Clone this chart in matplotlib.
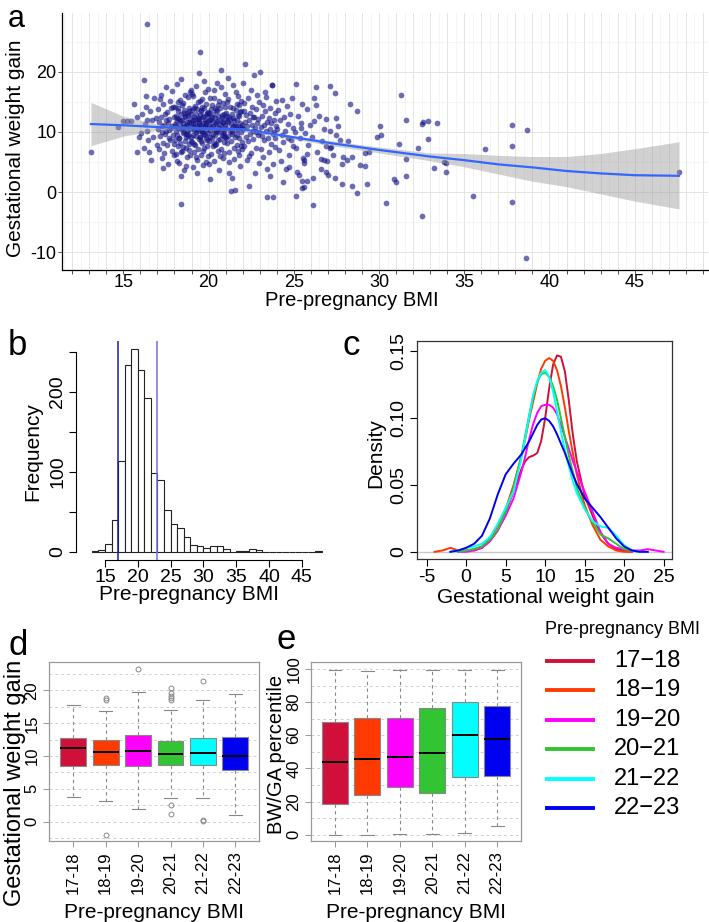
import numpy as np
import matplotlib
matplotlib.use('Agg')
import matplotlib.pyplot as plt
from matplotlib.lines import Line2D
from matplotlib.ticker import MultipleLocator, FuncFormatter

plt.rcParams['font.family'] = ['Liberation Sans', 'DejaVu Sans']
plt.rcParams['axes.unicode_minus'] = False

W, H = 709, 922

# ---------------- data ----------------
# panel a: scatter of pre-pregnancy BMI vs gestational weight gain
pts_16_18 = [(16.05, 9.8), (16.1, 12.9), (16.2, 7.4), (16.25, 11.3), (16.35, 14.1), (16.4, 10.2), (16.45, 8.6),
             (16.55, 13.4), (16.6, 5.3), (16.7, 11.9), (16.75, 9.1), (16.8, 15.6), (16.9, 12.3), (16.95, 7.9),
             (17.02, 10.4), (17.05, 13.8), (17.08, 7.1), (17.12, 11.6), (17.15, 9.3), (17.18, 16.2), (17.21, 12.5),
             (17.24, 5.6), (17.27, 10.9), (17.3, 8.2), (17.33, 14.6), (17.36, 11.2), (17.39, 6.5), (17.42, 12.9),
             (17.45, 9.7), (17.48, 17.4), (17.51, 10.1), (17.54, 7.8), (17.57, 13.3), (17.6, 11.5), (17.63, 4.7),
             (17.66, 9.0), (17.69, 12.1), (17.72, 15.1), (17.75, 8.6), (17.78, 10.7), (17.81, 13.9), (17.84, 6.9),
             (17.87, 11.0), (17.9, 9.5), (17.93, 14.2), (17.96, 12.4), (17.99, 8.0), (17.14, 15.4), (17.35, 4.0),
             (17.52, 12.0), (17.68, 10.3), (17.86, 16.8), (17.25, 9.9), (17.95, 6.2)]
pts_18_19 = [(18.01, 11.3), (18.03, 8.7), (18.05, 14.2), (18.07, 10.1), (18.09, 6.4), (18.11, 12.6), (18.13, 9.4),
             (18.15, 17.9), (18.17, 11.8), (18.19, 7.7), (18.21, 13.5), (18.23, 10.6), (18.25, 4.9), (18.27, 12.2),
             (18.29, 9.0), (18.31, 15.3), (18.33, 11.1), (18.35, 8.2), (18.37, 13.0), (18.39, 10.4), (18.41, 18.8),
             (18.43, 6.9), (18.45, 12.0), (18.47, 9.8), (18.49, 14.8), (18.51, 11.5), (18.53, 3.6), (18.55, 10.8),
             (18.57, 13.7), (18.59, 8.5), (18.61, 12.4), (18.63, 16.1), (18.65, 9.2), (18.67, 11.0), (18.69, 7.3),
             (18.71, 13.2), (18.73, 10.2), (18.75, 5.8), (18.77, 12.8), (18.79, 9.6), (18.81, 15.8), (18.83, 11.7),
             (18.85, 8.0), (18.87, 14.0), (18.89, 10.5), (18.91, 6.1), (18.93, 12.1), (18.95, 9.1), (18.97, 17.0),
             (18.99, 11.4), (18.04, 10.9), (18.12, 5.2), (18.18, 13.9), (18.26, 8.9), (18.34, 11.9), (18.42, 14.5),
             (18.48, 7.5), (18.56, 10.0), (18.62, 12.7), (18.68, 4.4), (18.74, 11.2), (18.8, 9.3), (18.86, 13.4),
             (18.92, 16.7), (18.98, 8.4), (18.14, 12.3), (18.22, 15.0), (18.36, 6.6), (18.46, 10.7), (18.54, 13.1),
             (18.66, 9.7), (18.72, 11.6), (18.84, 7.0), (18.94, 12.9), (18.38, 2.6)]
pts_19_20 = [(19.01, 10.8), (19.03, 13.6), (19.05, 8.3), (19.07, 11.9), (19.09, 15.9), (19.11, 9.5), (19.13, 12.5),
             (19.15, 6.7), (19.17, 10.3), (19.19, 14.3), (19.21, 11.4), (19.23, 7.9), (19.25, 13.0), (19.27, 9.9),
             (19.29, 17.6), (19.31, 11.0), (19.33, 5.4), (19.35, 12.2), (19.37, 10.1), (19.39, 14.9), (19.41, 8.8),
             (19.43, 11.7), (19.45, 19.8), (19.47, 9.2), (19.49, 12.8), (19.51, 10.6), (19.53, 6.2), (19.55, 13.5),
             (19.57, 11.2), (19.59, 8.1), (19.61, 15.5), (19.63, 10.0), (19.65, 12.4), (19.67, 4.5), (19.69, 11.5),
             (19.71, 9.6), (19.73, 13.9), (19.75, 7.4), (19.77, 10.9), (19.79, 16.6), (19.81, 12.0), (19.83, 9.0),
             (19.85, 11.3), (19.87, 14.6), (19.89, 8.6), (19.91, 10.4), (19.93, 12.9), (19.95, 6.0), (19.97, 11.8),
             (19.99, 9.8), (19.02, 16.3), (19.06, 4.1), (19.12, 10.7), (19.18, 12.1), (19.24, 9.3), (19.3, 13.8),
             (19.36, 7.1), (19.42, 11.1), (19.48, 15.2), (19.54, 8.5), (19.6, 10.2), (19.66, 12.6), (19.72, 18.4),
             (19.78, 9.4), (19.84, 11.6), (19.9, 7.7), (19.96, 13.3), (19.08, 11.5), (19.16, 14.0), (19.26, 5.9),
             (19.34, 10.5), (19.44, 12.3), (19.52, 9.1), (19.62, 14.1), (19.7, 6.8), (19.8, 10.8), (19.88, 13.1),
             (19.94, 17.2), (19.14, 8.0), (19.32, 3.2), (19.46, 11.9), (19.58, 13.7), (19.68, 10.0), (19.86, 5.0),
             (19.98, 12.7)]
pts_20_21 = [(20.01, 11.0), (20.03, 8.4), (20.05, 13.2), (20.07, 10.3), (20.09, 15.7), (20.11, 9.1), (20.13, 12.1),
             (20.15, 6.3), (20.17, 10.8), (20.19, 14.4), (20.21, 11.6), (20.23, 7.6), (20.25, 12.9), (20.27, 9.7),
             (20.29, 16.9), (20.31, 10.5), (20.33, 5.1), (20.35, 12.3), (20.37, 9.4), (20.39, 14.0), (20.41, 11.3),
             (20.43, 8.0), (20.45, 13.6), (20.47, 10.1), (20.49, 18.1), (20.51, 11.8), (20.53, 6.9), (20.55, 12.6),
             (20.57, 9.9), (20.59, 15.1), (20.61, 10.7), (20.63, 3.7), (20.65, 12.0), (20.67, 8.8), (20.69, 13.9),
             (20.71, 11.1), (20.73, 7.2), (20.75, 20.3), (20.77, 9.5), (20.79, 12.5), (20.81, 10.4), (20.83, 5.7),
             (20.85, 14.8), (20.87, 11.4), (20.89, 8.3), (20.91, 13.0), (20.93, 10.0), (20.95, 16.3), (20.97, 9.2),
             (20.99, 12.2), (20.04, 4.6), (20.1, 11.9), (20.16, 13.8), (20.22, 9.0), (20.28, 10.9), (20.34, 15.6),
             (20.4, 7.9), (20.46, 11.5), (20.52, 13.4), (20.58, 8.6), (20.64, 10.6), (20.7, 17.5), (20.76, 12.8),
             (20.82, 9.8), (20.88, 6.5), (20.94, 11.2), (20.98, 14.2), (20.06, 2.1), (20.2, 12.4), (20.3, 8.2),
             (20.44, 10.2), (20.56, 14.5), (20.66, 6.0), (20.8, 11.7), (20.92, 9.3)]
pts_21_22 = [(21.01, 10.7), (21.04, 13.1), (21.07, 8.1), (21.1, 11.8), (21.13, 15.4), (21.16, 9.3), (21.19, 12.4),
             (21.22, 6.6), (21.25, 10.2), (21.28, 14.1), (21.31, 11.3), (21.34, 0.1), (21.37, 12.9), (21.4, 9.6),
             (21.43, 17.8), (21.46, 10.9), (21.49, 5.5), (21.52, 12.0), (21.55, 0.3), (21.58, 13.7), (21.61, 11.0),
             (21.64, 7.8), (21.67, 14.7), (21.7, 10.4), (21.73, 16.0), (21.76, 8.9), (21.79, 12.6), (21.82, 4.3),
             (21.85, 11.5), (21.88, 9.9), (21.91, 13.5), (21.94, 7.1), (21.97, 10.6), (21.99, 18.2), (21.03, 9.0),
             (21.09, 14.9), (21.15, 11.6), (21.21, 3.2), (21.27, 12.2), (21.33, 8.5), (21.39, 10.0), (21.45, 13.9),
             (21.51, 7.4), (21.57, 11.2), (21.63, 16.7), (21.69, 9.4), (21.75, 12.8), (21.81, 6.1), (21.87, 10.8),
             (21.93, 15.2), (21.98, 8.3), (21.06, 12.7), (21.18, 5.0), (21.3, 10.5), (21.42, 12.3), (21.54, 9.2),
             (21.66, 11.9), (21.78, 14.4), (21.9, 7.6), (21.96, 11.1), (21.12, 19.0), (21.36, 2.4), (21.6, 10.3),
             (21.72, 6.8), (21.84, 13.3)]
pts_22_24 = [(22.02, 10.4), (22.05, 13.5), (22.08, 7.7), (22.11, 11.6), (22.14, 21.3), (22.17, 9.1), (22.2, 12.8),
             (22.23, 5.4), (22.26, 10.9), (22.29, 15.6), (22.32, 8.4), (22.35, 11.9), (22.38, 1.0), (22.41, 13.1),
             (22.44, 9.7), (22.47, 17.0), (22.5, 6.5), (22.53, 11.2), (22.56, 14.2), (22.59, 8.8), (22.62, 10.1),
             (22.65, 19.4), (22.68, 12.4), (22.71, 3.1), (22.74, 10.6), (22.77, 13.8), (22.8, 7.3), (22.83, 11.4),
             (22.86, 16.2), (22.89, 9.4), (22.92, 12.1), (22.95, 4.8), (22.98, 10.0), (22.1, 14.8), (22.37, 6.0),
             (22.58, 12.5), (22.79, 9.9), (22.96, 15.0),
             (23.02, 19.9), (23.05, 10.8), (23.08, 7.2), (23.12, 12.7), (23.15, 9.3), (23.18, 14.5), (23.22, 5.8),
             (23.25, 11.1), (23.28, 8.6), (23.32, 13.4), (23.35, 10.2), (23.38, 15.8), (23.42, 3.9), (23.45, 11.7),
             (23.48, 9.0), (23.52, 12.3), (23.55, 6.6), (23.58, 10.5), (23.62, 14.0), (23.65, 8.0), (23.68, 11.4),
             (23.72, 17.8), (23.75, 9.6), (23.78, 4.6), (23.82, 12.0), (23.85, 10.0), (23.88, 13.1), (23.92, 7.5),
             (23.95, 11.0), (23.98, 15.1), (23.4, -0.8), (23.6, 2.6), (23.3, 16.6), (23.9, 8.9)]
pts_24_28 = [(24.03, 10.4), (24.08, 13.6), (24.13, 7.0), (24.18, 11.9), (24.23, 5.1), (24.28, 9.5), (24.33, 15.3),
             (24.38, 8.3), (24.43, 12.4), (24.48, 10.1), (24.53, 3.8), (24.58, 14.3), (24.63, 9.0), (24.68, 11.3),
             (24.73, 6.2), (24.78, 12.9), (24.83, 8.7), (24.88, 15.6), (24.93, 10.6), (24.98, 7.7), (24.35, 1.6),
             (24.7, 4.2), (25.05, 10.0), (25.15, 7.3), (25.25, 12.6), (25.35, 8.9), (25.45, 11.4), (25.55, 5.6),
             (25.65, 9.8), (25.75, 13.8), (25.85, 7.9), (25.95, 11.1), (25.2, 3.3), (25.5, 14.6), (25.8, 6.4),
             (25.4, 10.7), (26.05, 9.2), (26.2, 11.8), (26.35, 6.7), (26.5, 12.7), (26.65, 8.4), (26.8, 10.5),
             (26.95, 5.2), (26.3, 14.5), (26.6, 3.9), (26.9, 12.1), (27.1, 10.2), (27.3, 6.1), (27.5, 12.3),
             (27.7, 8.6), (27.85, 4.7), (27.6, 11.0)]
pts_outer = [(13.1, 6.6), (14.7, 10.8), (15.0, 11.8), (15.2, 11.8), (15.45, 11.8), (15.6, 14.7), (15.8, 12.5),
             (15.8, 6.7), (16.2, 18.6), (16.3, 16.0), (16.4, 27.9), (15.9, 9.2), (16.5, 6.6), (16.4, 12.0),
             (19.5, 23.2), (18.4, -2.0), (38.6, -11.0), (35.5, -0.6), (37.8, -1.6), (32.5, -3.9), (30.4, -1.9),
             (26.1, -2.2), (25.1, -0.7), (23.8, -0.8), (37.8, 11.2), (37.8, 7.7), (38.7, 10.3), (36.2, 7.2),
             (47.6, 3.3), (31.3, 16.1), (33.4, 11.5), (32.6, 11.7), (32.9, 11.8), (32.5, 11.3), (31.6, 11.9),
             (32.9, 8.8), (32.3, 7.3), (31.2, 8.0), (33.9, 4.9), (33.9, 3.4), (33.2, 4.0), (31.6, 2.7), (30.9, 2.2),
             (31.0, 1.7), (30.1, 9.5), (30.06, 11.0), (29.9, 9.2), (29.2, 6.5), (29.4, 6.7), (29.3, 1.3),
             (28.7, -0.2), (28.4, 1.0), (27.8, 1.3), (28.9, 4.5), (29.2, 4.3), (31.6, 5.5), (33.8, 5.0),
             (28.2, 8.4), (27.5, 9.5), (27.9, 5.9), (28.4, 5.8), (28.1, 5.4), (28.3, 14.7), (28.7, 13.5),
             (27.4, 16.5), (27.1, 17.7), (26.3, 17.5), (26.2, 15.7), (25.1, 17.9), (23.7, 17.8), (26.9, 3.3),
             (27.0, 2.8), (27.4, 2.3), (26.1, 2.3), (25.8, 1.9), (25.5, 1.8), (25.6, 0.9), (25.5, 0.7),
             (27.2, 7.5), (27.1, 7.4), (26.9, 7.6), (26.6, 5.5), (26.8, 5.3), (25.6, 5.4), (25.6, 4.9), (25.3, 2.8)]

# loess fit and its confidence band
fit_x = [13.1, 15, 17, 19, 21, 22, 23, 25, 27, 30, 33, 35, 37, 39, 41, 43, 45, 47.6]
fit_y = [11.3, 11.1, 10.8, 10.6, 10.5, 10.4, 10.0, 9.1, 8.2, 7.0, 5.9, 5.3, 4.6, 4.1, 3.5, 3.1, 2.8, 2.7]
fit_lo = [7.7, 9.3, 10.3, 10.3, 10.2, 10.1, 9.7, 8.8, 7.8, 6.5, 5.2, 4.2, 3.0, 1.8, 0.9, -0.3, -1.5, -2.8]
fit_hi = [14.9, 12.6, 11.3, 10.9, 10.8, 10.7, 10.3, 9.4, 8.6, 7.5, 6.5, 6.4, 6.1, 5.9, 5.9, 6.4, 7.2, 8.35]

# panel b: histogram of BMI, 1-unit bins starting at 13
bin_left = list(range(13, 48))
bin_count = [1, 2, 9, 39, 113, 233, 254, 227, 192, 98, 90, 52, 35, 29, 18, 8, 7, 5, 7, 7, 3, 0,
             1, 1, 3, 2, 0, 0, 0, 0, 0, 0, 0, 0, 1]
bmi_cut = [17, 23]

# panel c: density curves per BMI group
groups = ['17-18', '18-19', '19-20', '20-21', '21-22', '22-23']
colors = ['#D0103A', '#FF3A00', '#FF00FF', '#33C433', '#00FFFF', '#0000F0']
dens_x = [-4, -3, -2, -1, 0, 1, 2, 3, 4, 5, 6, 7, 7.5, 8, 8.5, 9, 9.5, 10, 10.5, 11, 11.5, 12, 12.5,
          13, 13.5, 14, 15, 16, 17, 18, 19, 20, 21, 22, 23, 24, 25]
nan = np.nan
dens_17_18 = [nan, nan, nan, nan, nan, 0.001, 0.003, 0.008, 0.016, 0.03, 0.045, 0.062, 0.068, 0.071, 0.072,
              0.074, 0.083, 0.1, 0.122, 0.14, 0.147, 0.146, 0.135, 0.113, 0.088, 0.068, 0.042, 0.027, 0.014,
              0.006, 0.002, 0.001, 0.0, nan, nan, nan, nan]
dens_18_19 = [0.0, 0.001, 0.003, 0.001, 0.001, 0.002, 0.004, 0.01, 0.02, 0.032, 0.05, 0.072, 0.085, 0.1, 0.113,
              0.126, 0.137, 0.143, 0.145, 0.143, 0.136, 0.124, 0.108, 0.09, 0.074, 0.058, 0.035, 0.02, 0.009,
              0.004, 0.001, 0.0, 0.0, nan, nan, nan, nan]
dens_19_20 = [nan, nan, nan, 0.0, 0.0, 0.001, 0.003, 0.008, 0.016, 0.027, 0.04, 0.06, 0.072, 0.085, 0.096,
              0.104, 0.109, 0.11, 0.11, 0.108, 0.103, 0.095, 0.086, 0.077, 0.068, 0.06, 0.045, 0.03, 0.015,
              0.006, 0.003, 0.002, 0.001, 0.001, 0.002, 0.001, 0.0]
dens_20_21 = [nan, nan, nan, 0.0, 0.001, 0.002, 0.004, 0.009, 0.017, 0.03, 0.048, 0.072, 0.088, 0.103, 0.117,
              0.127, 0.133, 0.134, 0.131, 0.124, 0.114, 0.1, 0.086, 0.072, 0.06, 0.048, 0.033, 0.022, 0.013,
              0.01, 0.006, 0.002, 0.001, 0.0, nan, nan, nan]
dens_21_22 = [nan, nan, 0.0, 0.001, 0.003, 0.004, 0.006, 0.011, 0.021, 0.033, 0.045, 0.07, 0.086, 0.102, 0.118,
              0.128, 0.134, 0.136, 0.131, 0.12, 0.105, 0.09, 0.076, 0.064, 0.053, 0.044, 0.032, 0.023, 0.019,
              0.018, 0.012, 0.005, 0.001, 0.0, nan, nan, nan]
dens_22_23 = [nan, nan, 0.0, 0.001, 0.003, 0.006, 0.012, 0.025, 0.043, 0.058, 0.066, 0.073, 0.078, 0.083, 0.089,
              0.095, 0.099, 0.1, 0.098, 0.094, 0.088, 0.081, 0.074, 0.066, 0.058, 0.051, 0.04, 0.033, 0.026,
              0.018, 0.01, 0.004, 0.001, 0.0, 0.0, nan, nan]

# panel d: gestational weight gain boxplots (q1, median, q3, whisker low, whisker high, outliers)
gwg_q1 = [8.5, 8.6, 8.5, 8.6, 8.6, 7.8]
gwg_med = [11.2, 10.6, 10.8, 10.3, 10.4, 10.0]
gwg_q3 = [12.7, 12.4, 13.2, 12.3, 12.7, 12.9]
gwg_lo = [3.8, 3.2, 2.0, 3.6, 3.6, 1.0]
gwg_hi = [17.8, 16.9, 19.8, 17.0, 18.6, 19.4]
gwg_out = [[], [18.8, 18.5, -2.0], [23.3], [20.4, 19.6, 19.1, 18.8, 18.5, 2.6, 1.1], [21.4, 0.25, 0.1], []]

# panel e: BW/GA percentile boxplots
pct_q1 = [18.5, 23.7, 28.5, 25.3, 34.7, 35.1]
pct_med = [43.8, 45.8, 46.8, 49.0, 60.2, 57.6]
pct_q3 = [67.9, 70.1, 70.3, 76.5, 80.1, 77.7]
pct_lo = [0.0, 0.0, 0.4, 0.4, 1.2, 5.2]
pct_hi = [99.6, 98.8, 99.6, 99.6, 99.6, 99.6]


def fx(px):
    return px / W


def fy(py):
    return 1 - py / H


fig = plt.figure(figsize=(W / 100, H / 100), dpi=100)

# ---------------- panel a ----------------
ax = fig.add_axes([fx(62), fy(270), (708 - 62) / W, (270 - 13) / H])
pts = pts_16_18 + pts_18_19 + pts_19_20 + pts_20_21 + pts_21_22 + pts_22_24 + pts_24_28 + pts_outer
px_, py_ = zip(*pts)
ax.scatter(px_, py_, s=17, color='#141488', alpha=0.62, linewidths=0, zorder=2)
ax.fill_between(fit_x, fit_lo, fit_hi, color='#999999', alpha=0.45, linewidth=0, zorder=3)
ax.plot(fit_x, fit_y, color='#3366FF', lw=1.6, zorder=4)
ax.set_xlim(11.4, 49.3)
ax.set_ylim(-12.95, 29.75)
ax.xaxis.set_major_locator(MultipleLocator(1))
ax.xaxis.set_minor_locator(MultipleLocator(0.5))
ax.xaxis.set_major_formatter(FuncFormatter(lambda v, p: f'{v:.0f}' if round(v) % 5 == 0 else ''))
ax.yaxis.set_major_locator(MultipleLocator(10))
ax.yaxis.set_minor_locator(MultipleLocator(5))
ax.grid(which='major', color='#e4e4e4', lw=0.7, zorder=0)
ax.grid(which='minor', color='#f1f1f1', lw=0.5, zorder=0)
ax.set_axisbelow(True)
ax.tick_params(which='minor', length=0)
ax.tick_params(which='major', length=3, width=0.6, color='#333333', labelsize=13, pad=1)
ax.tick_params(axis='x', which='major', pad=0)
for s in ['top', 'right']:
    ax.spines[s].set_visible(False)
for s in ['left', 'bottom']:
    ax.spines[s].set_color('black')
    ax.spines[s].set_linewidth(0.9)
fig.text(fx(8), fy(27), 'a', fontsize=22, va='baseline', ha='left')
fig.text(fx(16), fy(148), 'Gestational weight gain', fontsize=15, rotation=90, ha='center', va='center')
fig.text(fx(352), fy(300), 'Pre-pregnancy BMI', fontsize=14.5, ha='center', va='center')

# ---------------- panel b ----------------
axb = fig.add_axes([fx(76), fy(559.7), (330.7 - 76) / W, 219.2 / H])
axb.bar(bin_left, bin_count, width=1, align='edge', facecolor='white', edgecolor='#222222', lw=0.8)
for xv, c in zip(bmi_cut, ['#1c1c9c', '#7070e0']):
    axb.axvline(xv, color=c, lw=1.1)
axb.set_xlim(10.58, 49.4)
axb.set_ylim(-10.2, 264.2)
for s in ['top', 'right']:
    axb.spines[s].set_visible(False)
axb.spines['left'].set_bounds(0, 250)
axb.spines['bottom'].set_bounds(15, 45)
axb.set_xticks(range(15, 46, 5))
axb.set_yticks(range(0, 251, 50))
axb.set_yticklabels(['0', '', '100', '', '200', ''], rotation=90, va='center')
axb.tick_params(direction='out', length=5, width=0.8, labelsize=14, pad=2)
fig.text(fx(8), fy(355), 'b', fontsize=25, va='baseline', ha='left')
fig.text(fx(33), fy(452), 'Frequency', fontsize=15, rotation=90, ha='center', va='center')
fig.text(fx(189), fy(595), 'Pre-pregnancy BMI', fontsize=15, ha='center', va='center')

# ---------------- panel c ----------------
axc = fig.add_axes([fx(417.3), fy(559.3), 255 / W, 218.6 / H])
axc.axhline(0, color='#c8c8c8', lw=1)
dens = [dens_17_18, dens_18_19, dens_19_20, dens_20_21, dens_21_22, dens_22_23]
for d, c in zip(dens, colors):
    axc.plot(dens_x, d, color=c, lw=1.4)
axc.set_xlim(-6.19, 26.1)
axc.set_ylim(-0.0056, 0.158)
axc.set_xticks(range(-5, 26, 5))
axc.set_yticks([0, 0.05, 0.10, 0.15])
axc.set_yticklabels(['0', '0.05', '0.10', '0.15'], rotation=90, va='center')
axc.tick_params(direction='out', length=5, width=0.8, labelsize=14, pad=2)
for s in axc.spines.values():
    s.set_color('#333333')
    s.set_linewidth(0.9)
fig.text(fx(343), fy(355), 'c', fontsize=25, va='baseline', ha='left')
fig.text(fx(376), fy(453), 'Density', fontsize=15, rotation=90, ha='center', va='center')
fig.text(fx(546), fy(597), 'Gestational weight gain', fontsize=15, ha='center', va='center')


# ---------------- panels d and e ----------------
def boxpanel(axx, q1, med, q3, lo, hi, out, grid_vals, ticks):
    for g in grid_vals:
        axx.axhline(g, color='#cfcfcf', lw=0.7, ls=(0, (3, 3)), zorder=0)
    stats = []
    for i in range(len(groups)):
        stats.append(dict(q1=q1[i], med=med[i], q3=q3[i], whislo=lo[i], whishi=hi[i],
                          fliers=out[i] if out else []))
    bp = axx.bxp(stats, positions=range(1, 7), widths=0.8, capwidths=0.4, patch_artist=True,
                 boxprops=dict(edgecolor='#888888', lw=0.8),
                 whiskerprops=dict(color='#888888', lw=0.8, ls=(0, (3, 3))),
                 capprops=dict(color='#888888', lw=0.8),
                 medianprops=dict(color='black', lw=1.4),
                 flierprops=dict(marker='o', markerfacecolor='none', markeredgecolor='#888888',
                                 markersize=3.5, markeredgewidth=0.7))
    for patch, c in zip(bp['boxes'], colors):
        patch.set_facecolor(c)
    axx.set_xlim(0.26, 6.74)
    axx.set_xticks(range(1, 7))
    axx.set_xticklabels(groups, rotation=90)
    axx.set_yticks(ticks)
    axx.set_yticklabels([str(t) for t in ticks], rotation=90, va='center')
    axx.tick_params(direction='out', length=4, width=0.6, color='#888888', labelsize=12, pad=3)
    for s in axx.spines.values():
        s.set_color('#999999')
        s.set_linewidth(0.9)


axd = fig.add_axes([fx(49.3), fy(841.3), 210 / W, 179 / H])
boxpanel(axd, gwg_q1, gwg_med, gwg_q3, gwg_lo, gwg_hi, gwg_out, np.arange(-2.5, 23, 2.5), [0, 5, 10, 15, 20])
axd.set_ylim(-3.0, 24.3)
fig.text(fx(8), fy(655), 'd', fontsize=25, va='baseline', ha='left')
fig.text(fx(15), fy(783), 'Gestational weight gain', fontsize=17, rotation=90, ha='center', va='center')
fig.text(fx(154), fy(912), 'Pre-pregnancy BMI', fontsize=15, ha='center', va='center')

axe = fig.add_axes([fx(311), fy(841.3), 210 / W, 179 / H])
boxpanel(axe, pct_q1, pct_med, pct_q3, pct_lo, pct_hi, None, np.arange(0, 101, 10), [0, 20, 40, 60, 80, 100])
axe.set_ylim(-4, 104)
fig.text(fx(276), fy(649), 'e', fontsize=25, va='baseline', ha='left')
fig.text(fx(277), fy(754), 'BW/GA percentile', fontsize=14.5, rotation=90, ha='center', va='center')
fig.text(fx(416), fy(912), 'Pre-pregnancy BMI', fontsize=15, ha='center', va='center')

# ---------------- legend ----------------
fig.text(fx(545), fy(629), 'Pre-pregnancy BMI', fontsize=13, ha='left', va='center')
for i, (g, c) in enumerate(zip(groups, colors)):
    yy = 661 + i * 29.4
    fig.add_artist(Line2D([fx(546.7), fx(593.3)], [fy(yy), fy(yy)], color=c, lw=2.8))
    fig.text(fx(614), fy(yy), g.replace('-', '\u2212'), fontsize=17, ha='left', va='center')

fig.savefig('out.png', dpi=100)
